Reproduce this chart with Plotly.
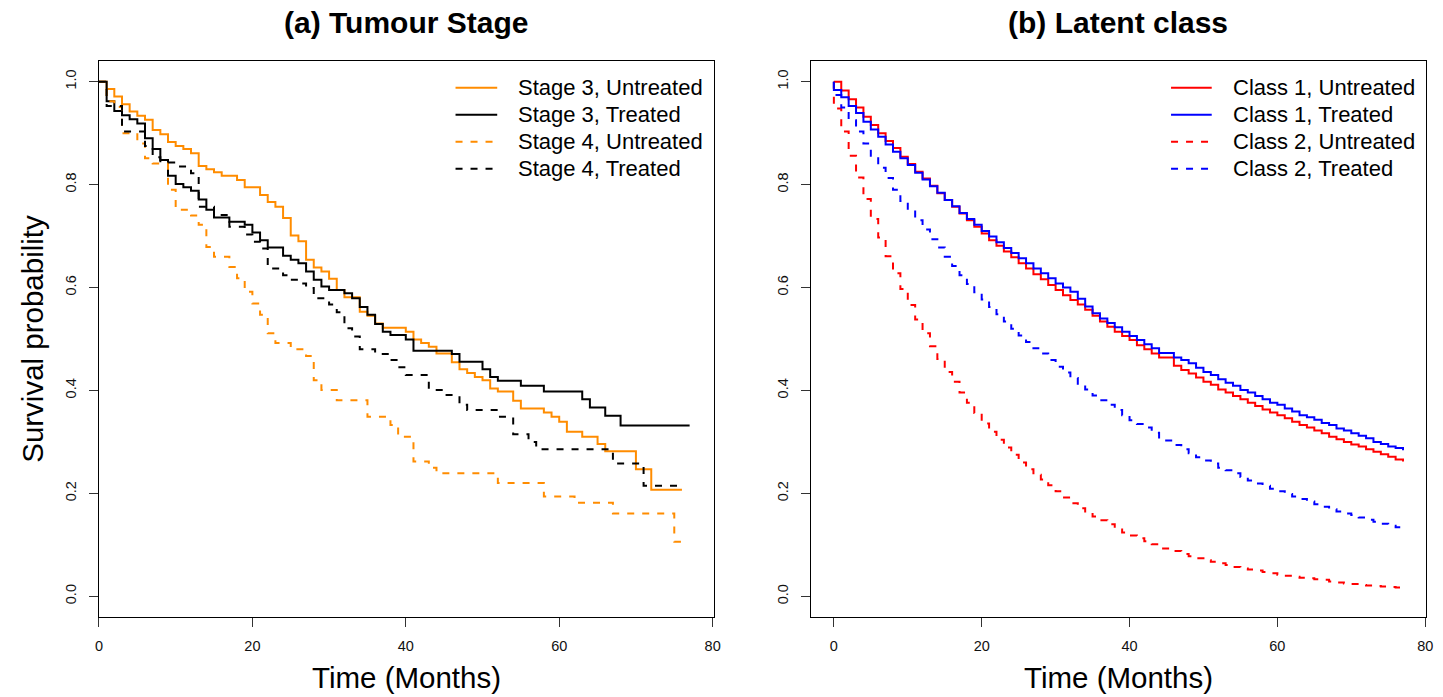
import plotly.graph_objects as go

W, H = 1443, 697
FONT = "Liberation Sans, Arial, Helvetica, sans-serif"
ORANGE = "#FF8C00"
DASH = "7px,8px"

# ---------------- Panel (a): Tumour stage, Kaplan-Meier ----------------
S3U_T = [0, 1, 2, 3, 4, 5, 6, 7, 8, 9, 10, 11, 12, 13, 14, 15, 16, 18, 19, 21, 22, 23, 24, 25, 26, 27, 28, 29, 30, 31, 32,
         34, 35, 36, 37, 40, 41, 42, 43, 44, 46, 47, 48, 49, 50, 51, 52, 54, 55, 58, 59, 60, 61, 63, 65, 66, 70, 72, 76]
S3U_S = [1.0, 0.986, 0.971, 0.956, 0.942, 0.934, 0.926, 0.906, 0.898, 0.883, 0.875, 0.869, 0.861, 0.836, 0.830, 0.824,
         0.817, 0.809, 0.795, 0.780, 0.766, 0.757, 0.735, 0.701, 0.690, 0.654, 0.639, 0.631, 0.617, 0.595, 0.581, 0.553,
         0.545, 0.530, 0.522, 0.514, 0.499, 0.492, 0.485, 0.472, 0.455, 0.441, 0.434, 0.426, 0.420, 0.404, 0.398, 0.380,
         0.365, 0.357, 0.349, 0.339, 0.320, 0.310, 0.296, 0.282, 0.247, 0.207, 0.207]

S3T_T = [0, 1, 2, 3, 4, 5, 6, 7, 8, 9, 10, 11, 12, 13, 14, 15, 17, 19, 20, 21, 22, 24, 25, 26, 27, 28, 29, 30, 32, 33, 34,
         35, 36, 37, 38, 40, 41, 46, 47, 50, 51, 52, 55, 58, 63, 64, 66, 68, 77]
S3T_S = [1.0, 0.962, 0.943, 0.935, 0.927, 0.919, 0.890, 0.869, 0.848, 0.817, 0.801, 0.795, 0.788, 0.771, 0.751, 0.736,
         0.728, 0.722, 0.707, 0.692, 0.678, 0.662, 0.654, 0.647, 0.631, 0.615, 0.602, 0.595, 0.589, 0.579, 0.562, 0.547,
         0.529, 0.514, 0.508, 0.499, 0.477, 0.471, 0.456, 0.441, 0.426, 0.419, 0.409, 0.398, 0.383, 0.367, 0.351, 0.332,
         0.332]

S4U_T = [0, 1, 2, 3, 5, 6, 7, 9, 10, 12, 13, 14, 15, 17, 18, 19, 20, 21, 22, 23, 25, 27, 28, 29, 31, 35, 38, 39, 41, 43,
         44, 52, 58, 62, 67, 75, 76]
S4U_S = [1.0, 0.962, 0.951, 0.900, 0.880, 0.851, 0.841, 0.790, 0.751, 0.740, 0.722, 0.679, 0.660, 0.640, 0.618, 0.592,
         0.569, 0.547, 0.511, 0.492, 0.480, 0.467, 0.420, 0.401, 0.381, 0.349, 0.333, 0.310, 0.262, 0.250, 0.239, 0.220,
         0.194, 0.182, 0.161, 0.106, 0.106]

S4T_T = [0, 1, 3, 6, 7, 8, 10, 12, 13, 15, 17, 19, 20, 21, 22, 24, 25, 26, 27, 28, 30, 31, 32, 33, 34, 36, 38, 39, 40, 43,
         45, 47, 48, 52, 54, 56, 57, 67, 71, 76]
S4T_S = [1.0, 0.953, 0.903, 0.875, 0.853, 0.843, 0.835, 0.822, 0.757, 0.741, 0.718, 0.703, 0.689, 0.676, 0.637, 0.624,
         0.615, 0.608, 0.599, 0.579, 0.567, 0.552, 0.521, 0.505, 0.480, 0.471, 0.459, 0.445, 0.430, 0.401, 0.391, 0.372,
         0.362, 0.349, 0.315, 0.300, 0.286, 0.258, 0.215, 0.215]

# ---------------- Panel (b): Latent class, fitted curves ----------------
TB = [0, 0, 1, 2, 3, 4, 5, 6, 7, 8, 9, 10, 11, 12, 13, 14, 15, 16, 17, 18, 19, 20, 21, 22, 23, 24, 25, 26, 27, 28, 29,
      30, 31, 32, 33, 34, 35, 36, 37, 38, 39, 40, 41, 42, 43, 44, 46, 47, 48, 49, 50, 51, 52, 53, 54, 55, 56, 57, 58,
      59, 60, 61, 62, 63, 64, 65, 66, 67, 68, 69, 70, 71, 72, 73, 74, 75, 76, 77]

C1U = [1.0, 1.0,
       0.983, 0.966, 0.950, 0.932, 0.916, 0.900, 0.885, 0.871, 0.854, 0.840, 0.825, 0.812, 0.798, 0.783, 0.770, 0.757,
       0.744, 0.731, 0.718, 0.705, 0.692, 0.681, 0.670, 0.659, 0.647, 0.637, 0.626, 0.616, 0.605, 0.595, 0.585, 0.576,
       0.567, 0.557,
       0.545, 0.534, 0.524, 0.514, 0.506, 0.498, 0.488, 0.480, 0.472, 0.464,
       0.448, 0.440, 0.433, 0.425, 0.417, 0.411, 0.402, 0.396, 0.389, 0.383, 0.376, 0.370, 0.363, 0.357, 0.352, 0.346,
       0.339, 0.333, 0.328, 0.322, 0.317, 0.310, 0.305, 0.300, 0.295, 0.291, 0.286, 0.281, 0.276, 0.271, 0.266, 0.262]

C1T = [1.0, 0.984,
       0.970, 0.953, 0.939, 0.922, 0.907, 0.893, 0.878, 0.864, 0.851, 0.838, 0.823, 0.810, 0.797, 0.784, 0.770, 0.758,
       0.745, 0.733, 0.722, 0.710, 0.699, 0.688, 0.677, 0.667, 0.657, 0.647, 0.637, 0.628, 0.618, 0.608, 0.600, 0.592,
       0.578, 0.563,
       0.550, 0.540, 0.531, 0.523, 0.514, 0.506, 0.498, 0.490, 0.482, 0.473,
       0.464, 0.459, 0.453, 0.444, 0.436, 0.430, 0.422, 0.415, 0.409, 0.401, 0.396, 0.389, 0.383, 0.376, 0.372, 0.365,
       0.359, 0.352, 0.348, 0.343, 0.337, 0.333, 0.326, 0.322, 0.317, 0.312, 0.307, 0.300, 0.296, 0.291, 0.288, 0.284]

C2U = [1.0, 0.948,
       0.903, 0.856, 0.814, 0.772, 0.733, 0.697, 0.661, 0.628, 0.597, 0.566, 0.538, 0.511, 0.486, 0.461, 0.436, 0.417,
       0.396, 0.376, 0.356, 0.336, 0.320, 0.304, 0.289, 0.275, 0.260, 0.247, 0.236, 0.227, 0.216, 0.204, 0.192, 0.181,
       0.171, 0.162,
       0.155, 0.148, 0.140, 0.130, 0.124, 0.118, 0.113, 0.107, 0.101, 0.093,
       0.088, 0.082, 0.078, 0.074, 0.070, 0.067, 0.064, 0.061, 0.057, 0.054, 0.052, 0.050, 0.047, 0.045, 0.042, 0.040,
       0.038, 0.036, 0.035, 0.033, 0.032, 0.029, 0.027, 0.025, 0.024, 0.022, 0.021, 0.020, 0.019, 0.018, 0.017, 0.017]

C2T = [1.0, 0.974,
       0.950, 0.925, 0.903, 0.880, 0.856, 0.833, 0.813, 0.790, 0.768, 0.750, 0.731, 0.713, 0.694, 0.678, 0.660, 0.642,
       0.624, 0.607, 0.591, 0.577, 0.562, 0.548, 0.534, 0.520, 0.507, 0.494, 0.482, 0.472, 0.459, 0.446, 0.435, 0.424,
       0.413, 0.402,
       0.390, 0.381, 0.372, 0.362, 0.352, 0.342, 0.335, 0.328, 0.318, 0.303,
       0.294, 0.286, 0.278, 0.270, 0.264, 0.258, 0.250, 0.245, 0.239, 0.232, 0.225, 0.219, 0.215, 0.209, 0.204, 0.199,
       0.194, 0.189, 0.184, 0.179, 0.174, 0.169, 0.165, 0.161, 0.158, 0.153, 0.149, 0.145, 0.141, 0.137, 0.134, 0.134]

LEG_A = ["Stage 3, Untreated", "Stage 3, Treated", "Stage 4, Untreated", "Stage 4, Treated"]
LEG_B = ["Class 1, Untreated", "Class 1, Treated", "Class 2, Untreated", "Class 2, Treated"]
TITLES = ["(a) Tumour Stage", "(b) Latent class"]
XLABEL = "Time (Months)"
YLABEL = "Survival probability"
XTICKS = [0, 20, 40, 60, 80]
YTICKS = [0.0, 0.2, 0.4, 0.6, 0.8, 1.0]

series_a = [(S3U_T, S3U_S, ORANGE, "solid"), (S3T_T, S3T_S, "black", "solid"),
            (S4U_T, S4U_S, ORANGE, DASH), (S4T_T, S4T_S, "black", DASH)]
series_b = [(TB, C1U, "#FF0000", "solid"), (TB, C1T, "#0000FF", "solid"),
            (TB, C2U, "#FF0000", DASH), (TB, C2T, "#0000FF", DASH)]

fig = go.Figure()
for (t, s, c, d), name in zip(series_a, LEG_A):
    fig.add_trace(go.Scatter(x=t, y=s, mode="lines", line=dict(color=c, width=2, dash=d, shape="hv"),
                             name=name, showlegend=False, xaxis="x", yaxis="y"))
for (t, s, c, d), name in zip(series_b, LEG_B):
    fig.add_trace(go.Scatter(x=t, y=s, mode="lines", line=dict(color=c, width=2, dash=d, shape="hv"),
                             name=name, showlegend=False, xaxis="x2", yaxis="y2"))


def px(x):
    return x / W


def py(y):
    return 1 - y / H


A_L, A_R = 95.7, 715.0
B_L, B_R = 813.3, 1432.7
P_T, P_B = 60.7, 617.3

axis_common = dict(showline=True, linecolor="black", linewidth=1, mirror=True, ticks="outside", ticklen=9,
                   tickwidth=1, tickcolor="#333333", showgrid=False, zeroline=False,
                   tickfont=dict(family=FONT, size=14.5, color="#111111"))

xa = dict(axis_common, domain=[px(A_L), px(A_R)], range=[0, 80.12], tickvals=XTICKS, anchor="y",
          ticklabelstandoff=6)
xb = dict(axis_common, domain=[px(B_L), px(B_R)], range=[-3.08, 80.08], tickvals=XTICKS, anchor="y2",
          ticklabelstandoff=6)
ya = dict(axis_common, domain=[py(P_B), py(P_T)], range=[-0.0408, 1.0408], tickvals=YTICKS,
          ticktext=["%.1f" % v for v in YTICKS], tickangle=-90, anchor="x", ticklabelstandoff=7)
yb = dict(axis_common, domain=[py(P_B), py(P_T)], range=[-0.0408, 1.0408], tickvals=YTICKS,
          ticktext=["%.1f" % v for v in YTICKS], tickangle=-90, anchor="x2", ticklabelstandoff=7)

annotations = []
shapes = []
for title, cx in zip(TITLES, [(A_L + A_R) / 2, (B_L + B_R) / 2]):
    annotations.append(dict(text="<b>%s</b>" % title, x=px(cx), y=py(22), xref="paper", yref="paper",
                            xanchor="center", yanchor="middle", showarrow=False,
                            font=dict(family=FONT, size=30, color="black")))
    annotations.append(dict(text=XLABEL, x=px(cx), y=py(677), xref="paper", yref="paper",
                            xanchor="center", yanchor="middle", showarrow=False,
                            font=dict(family=FONT, size=29.5, color="black")))
annotations.append(dict(text=YLABEL, x=px(28), y=py((P_T + P_B) / 2), xref="paper", yref="paper",
                        xanchor="center", yanchor="middle", showarrow=False, textangle=-90,
                        font=dict(family=FONT, size=29.5, color="black")))

rows = [87.7, 114.7, 141.7, 168.7]
for series, labels, lx0, lx1, tx in [(series_a, LEG_A, 455, 497, 515.5), (series_b, LEG_B, 1176, 1217, 1236)]:
    for (t, s, c, d), lab, ry in zip(series, labels, rows):
        shapes.append(dict(type="line", xref="paper", yref="paper", x0=px(lx0), x1=px(lx1), y0=py(ry), y1=py(ry),
                           line=dict(color=c, width=2, dash=d)))
        annotations.append(dict(text=lab, x=px(tx), y=py(ry), xref="paper", yref="paper", xanchor="left",
                                yanchor="middle", showarrow=False,
                                font=dict(family=FONT, size=22, color="black")))

fig.update_layout(width=W, height=H, margin=dict(l=0, r=0, t=0, b=0), paper_bgcolor="white",
                  plot_bgcolor="white", xaxis=xa, xaxis2=xb, yaxis=ya, yaxis2=yb,
                  annotations=annotations, shapes=shapes, showlegend=False)

fig.write_html("out.html")
